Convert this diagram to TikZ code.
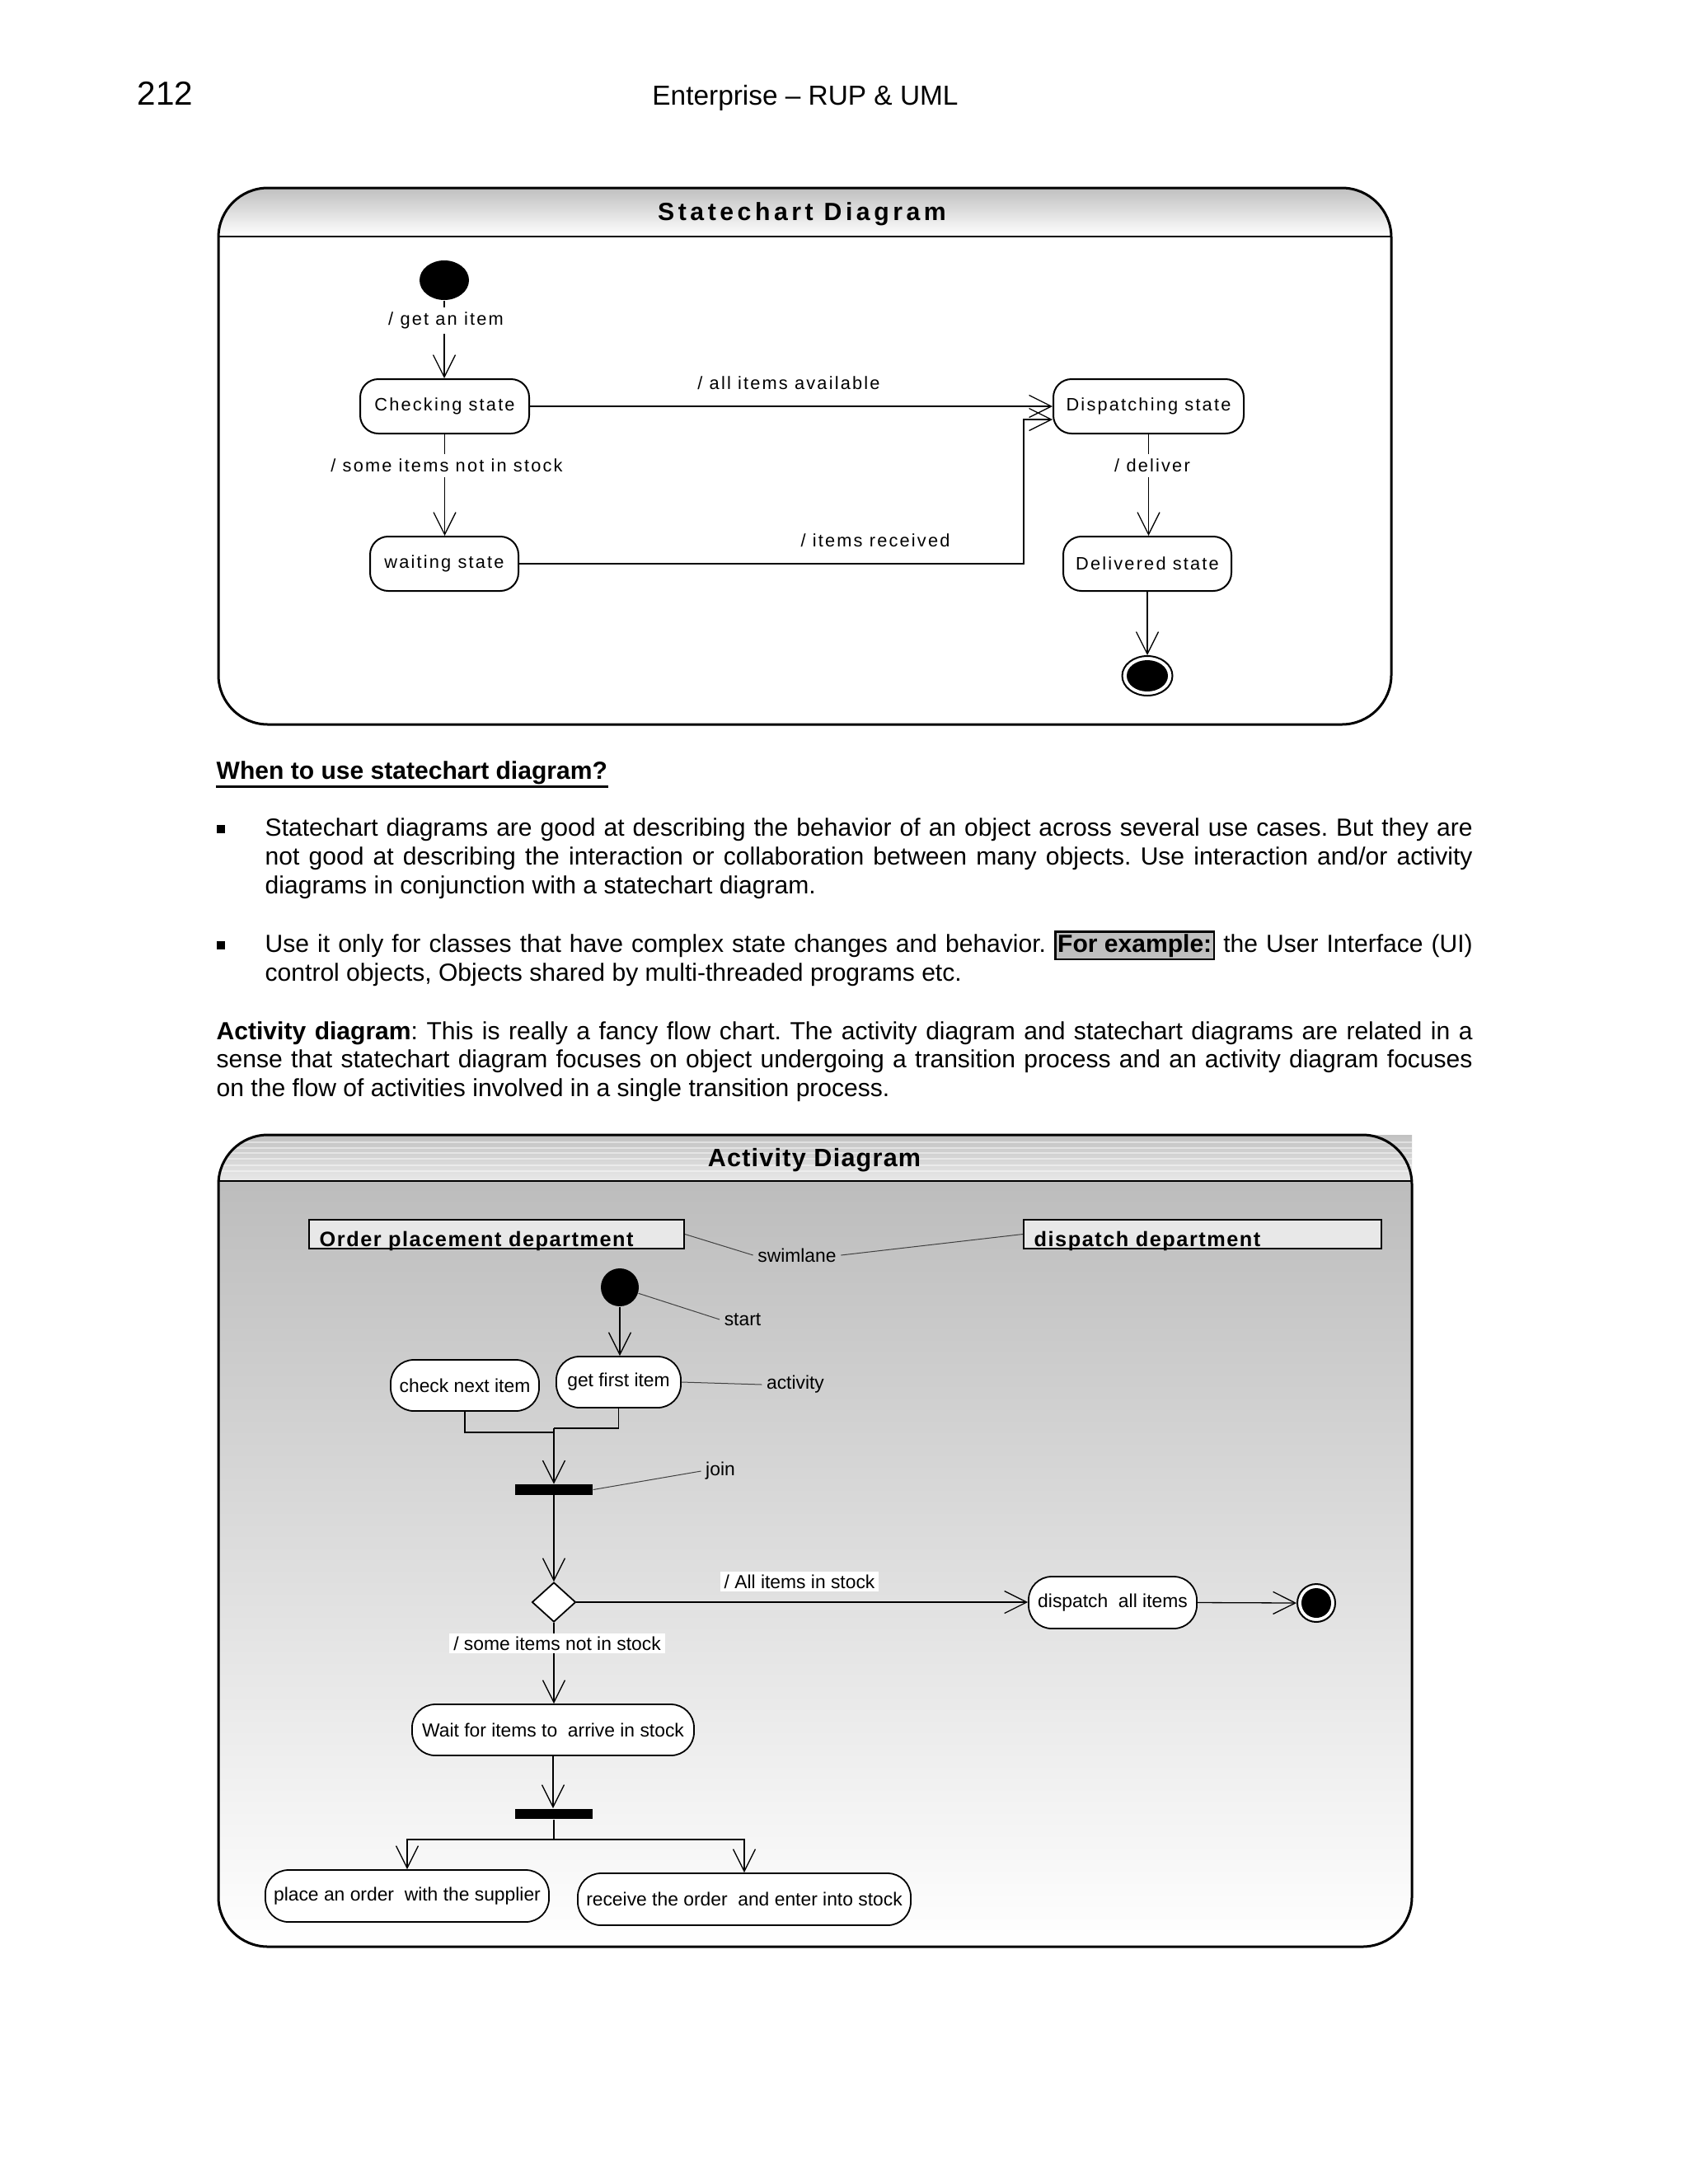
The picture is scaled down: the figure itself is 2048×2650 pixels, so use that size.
\documentclass[tikz,border=0pt]{standalone}
\usepackage{fontspec}
\setmainfont{Liberation Sans}
\newfontfamily\lsf[LetterSpace=10]{Liberation Sans}
\newfontfamily\sctf[LetterSpace=15]{Liberation Sans}
\newfontfamily\actf[LetterSpace=4]{Liberation Sans}
\newfontfamily\lanef[LetterSpace=6]{Liberation Sans}
\usetikzlibrary{arrows.meta,shapes.geometric}
\newcommand\bodyfs{\fontsize{8.55}{10}\selectfont}
\frenchspacing
\tikzset{
  stbox/.style={draw, line width=0.2mm, rounded corners=2.2mm, minimum height=6.6mm, inner sep=0, fill=white, font=\lsf\fontsize{6.2}{7}\selectfont},
  actbox/.style={draw, line width=0.18mm, rounded corners=2.8mm, minimum height=6.2mm, inner sep=0, fill=white, font=\fontsize{6.5}{7.5}\selectfont},
  slbl/.style={font=\lsf\fontsize{6.2}{7}\selectfont, inner sep=0.6mm},
  albl/.style={font=\fontsize{6.5}{7.5}\selectfont, inner xsep=0.5mm, inner ysep=0.4mm},
  conn/.style={line width=0.13mm},
  arr/.style={line width=0.13mm, -{Straight Barb[length=2.7mm,width=2.7mm,line width=0.13mm]}},
  note/.style={line width=0.1mm, black!75},
  bar/.style={fill=black, minimum width=9.4mm, minimum height=1.25mm, inner sep=0},
  lanebox/.style={draw, line width=0.2mm, fill=black!9, minimum height=3.5mm, inner sep=0},
  lanetxt/.style={anchor=base west, inner sep=0, font=\lanef\bfseries\fontsize{7.2}{8}\selectfont},
  bodyline/.style={anchor=base west, inner sep=0, font=\bodyfs},
  bulletsq/.style={fill=black, minimum width=0.95mm, minimum height=0.95mm, inner sep=0},
}
\begin{document}
\begin{tikzpicture}[x=0.1mm,y=-0.1mm]
\useasboundingbox[fill=white] (0,0) rectangle (2048,2650);

% header
\node[anchor=base west, inner sep=0, font=\fontsize{11.5}{13}\selectfont] (pg) at (166,127) {212};
\node[anchor=base, inner sep=0, font=\fontsize{9.5}{11}\selectfont] (hdr) at (977,127) {Enterprise -- RUP \& UML};

% ================= Statechart diagram =================
\begin{scope}
\clip[rounded corners=6mm] (265,228) rectangle (1688,879);
\shade[top color=black!25, bottom color=white] (265,228) rectangle (1688,287);
\end{scope}
\draw[line width=0.25mm] (265,287) -- (1688,287);
\draw[line width=0.3mm, rounded corners=6mm] (265,228) rectangle (1688,879);
\node[font=\sctf\bfseries\fontsize{8.6}{10}\selectfont] (sctitle) at (973,260) {Statechart Diagram};

\node[ellipse, fill=black, minimum width=6mm, minimum height=4.8mm, inner sep=0] (init) at (539,340) {};
\node[stbox, minimum width=20.5mm] (check) at (539.5,493) {Checking state};
\node[stbox, minimum width=23.1mm] (disp) at (1393.5,493) {Dispatching state};
\node[stbox, minimum width=18mm] (wait) at (539,684) {waiting state};
\node[stbox, minimum width=20.4mm] (deliv) at (1392,684) {Delivered state};
\node[ellipse, draw, line width=0.2mm, fill=white, minimum width=6.1mm, minimum height=4.8mm, inner sep=0] (fin) at (1392,820) {};
\node[ellipse, fill=black, minimum width=5mm, minimum height=3.8mm, inner sep=0] (finin) at (fin) {};

\draw[arr] (init.south) -- (init.south |- check.north);
\draw[arr] (check.east) -- (disp.west);
\draw[arr] (check.south) -- (check.south |- wait.north);
\coordinate (rjog) at (1242,509);
\draw[arr] (wait.east) -| (rjog) -- (rjog -| disp.west);
\draw[arr] (disp.south) -- (disp.south |- deliv.north);
\draw[arr] (deliv.south) -- (fin.north);

\node[slbl, fill=white] (l1) at (541,389) {/ get an item};
\node[slbl] (l2) at (957,465) {/ all items available};
\node[slbl, fill=white] (l3) at (542,565) {/ some items not in stock};
\node[slbl] (l4) at (1062,656) {/ items received};
\node[slbl, fill=white] (l5) at (1398,565) {/ deliver};

% ================= Text =================
\node[anchor=base west, inner sep=0, font=\bodyfs\bfseries] (hd) at (262,945) {When to use statechart diagram?};
\draw[line width=0.3mm] ([yshift=-0.2mm]hd.south west) -- ([yshift=-0.2mm]hd.south east);

\node[bulletsq] (bul1) at (268,1006) {};
\node[bodyline] (b1a) at (321,1014) {\makebox[146.5mm][s]{Statechart diagrams are good at describing the behavior of an object across several use cases. But they are}};
\node[bodyline] (b1b) at (321,1049) {\makebox[146.5mm][s]{not good at describing the interaction or collaboration between many objects. Use interaction and/or activity}};
\node[bodyline] (b1c) at (321,1084) {diagrams in conjunction with a statechart diagram.};

\node[bulletsq] (bul2) at (268,1147) {};
\node[bodyline] (b2a) at (321,1155) {\setlength\fboxsep{0.15mm}\setlength\fboxrule{0.25mm}\makebox[146.5mm][s]{Use it only for classes that have complex state changes and behavior. \fcolorbox{black}{black!25}{\textbf{For example:}} the User Interface (UI)}};
\node[bodyline] (b2b) at (321,1190) {control objects, Objects shared by multi-threaded programs etc.};

\node[bodyline] (pa) at (262,1261) {\makebox[152.4mm][s]{\textbf{Activity diagram}: This is really a fancy flow chart. The activity diagram and statechart diagrams are related in a}};
\node[bodyline] (pb) at (262,1295) {\makebox[152.4mm][s]{sense that statechart diagram focuses on object undergoing a transition process and an activity diagram focuses}};
\node[bodyline] (pc) at (262,1330) {on the flow of activities involved in a single transition process.};

% ================= Activity diagram =================
\begin{scope}
\clip[rounded corners=6mm] (265,1377) rectangle (1713,2362) [sharp corners] (1650,1377) rectangle (1713,1433);
\shade[top color=black!26, bottom color=white] (265,1433) rectangle (1713,2362);
\shade[top color=black!24, bottom color=black!9] (265,1377) rectangle (1713,1433);
\foreach \yy in {1386,1393,1399,1406,1414,1421}
  \draw[white, opacity=0.45, line width=0.12mm] (265,\yy) -- (1713,\yy);
\end{scope}
\draw[line width=0.25mm] (265,1433) -- (1713,1433);
\draw[line width=0.3mm, rounded corners=6mm] (265,1377) rectangle (1713,2362);
\node[font=\actf\bfseries\fontsize{8.7}{10}\selectfont] (actitle) at (988,1408) {Activity Diagram};

\node[lanebox, minimum width=45.5mm] (lane1) at (602.5,1497.5) {};
\node[lanetxt] (lane1t) at (387,1512) {Order placement department};
\node[lanebox, minimum width=43.4mm] (lane2) at (1459,1497.5) {};
\node[lanetxt] (lane2t) at (1254,1512) {dispatch department};
\node[albl] (swl) at (967,1523) {swimlane};
\draw[note] (lane1.east) -- (swl.west);
\draw[note] (swl.east) -- (lane2.west);

\node[circle, fill=black, minimum size=4.6mm, inner sep=0] (start) at (752,1562) {};
\node[albl] (startlbl) at (901,1601) {start};
\draw[note] (start) -- (startlbl.west);

\node[actbox, minimum width=15.1mm] (gfi) at (750.5,1677) {get first item};
\node[actbox, minimum width=18mm] (cni) at (564,1681) {check next item};
\node[albl] (actlbl) at (965,1680) {activity};
\draw[note] (gfi.east) -- (actlbl.west);
\draw[arr] (start.south) -- (start.south |- gfi.north);

\node[bar] (join) at (672,1807.5) {};
\coordinate (ja) at (672,1738);
\coordinate (jb) at (672,1733);
\draw[conn] (cni.south) |- (ja);
\draw[conn] (gfi.south) |- (jb);
\draw[arr] (jb) -- (join.north);
\node[albl] (joinlbl) at (874,1785) {join};
\draw[note] (join.east) -- (joinlbl.west);

\node[diamond, draw, fill=white, line width=0.18mm, minimum width=5.3mm, minimum height=4.8mm, inner sep=0] (dec) at (672,1944) {};
\draw[arr] (join.south) -- (dec.north);

\node[actbox, minimum width=20.4mm, minimum height=6.3mm] (dsp) at (1350,1944.5) {dispatch~ all items};
\node[circle, draw, line width=0.2mm, fill=white, minimum size=4.6mm, inner sep=0] (fin2) at (1597,1945) {};
\node[circle, fill=black, minimum size=3.6mm, inner sep=0] (fin2in) at (fin2) {};
\draw[arr] (dec.east) -- (dec.east -| dsp.west);
\draw[arr] (dsp.east) -- (fin2.west);

\node[actbox, minimum width=34.2mm] (wfi) at (671,2099) {Wait for items to~ arrive in stock};
\draw[arr] (dec.south) -- (dec.south |- wfi.north);

\node[albl, fill=white] (allst) at (970,1919) {/ All items in stock};
\node[albl, fill=white] (somest) at (676,1994) {/ some items not in stock};

\node[bar] (fork) at (672,2201) {};
\draw[arr] (wfi.south) -- (wfi.south |- fork.north);

\node[actbox, minimum width=34.4mm, minimum height=6.3mm] (plc) at (494,2300.5) {place an order~ with the supplier};
\node[actbox, minimum width=40.4mm, minimum height=6.3mm] (rcv) at (903,2304.5) {receive the order~ and enter into stock};
\coordinate (fk) at (672,2232);
\draw[conn] (fork.south) -- (fk);
\draw[arr] (fk) -| (plc.north);
\draw[arr] (fk) -| (rcv.north);
\end{tikzpicture}
\end{document}
